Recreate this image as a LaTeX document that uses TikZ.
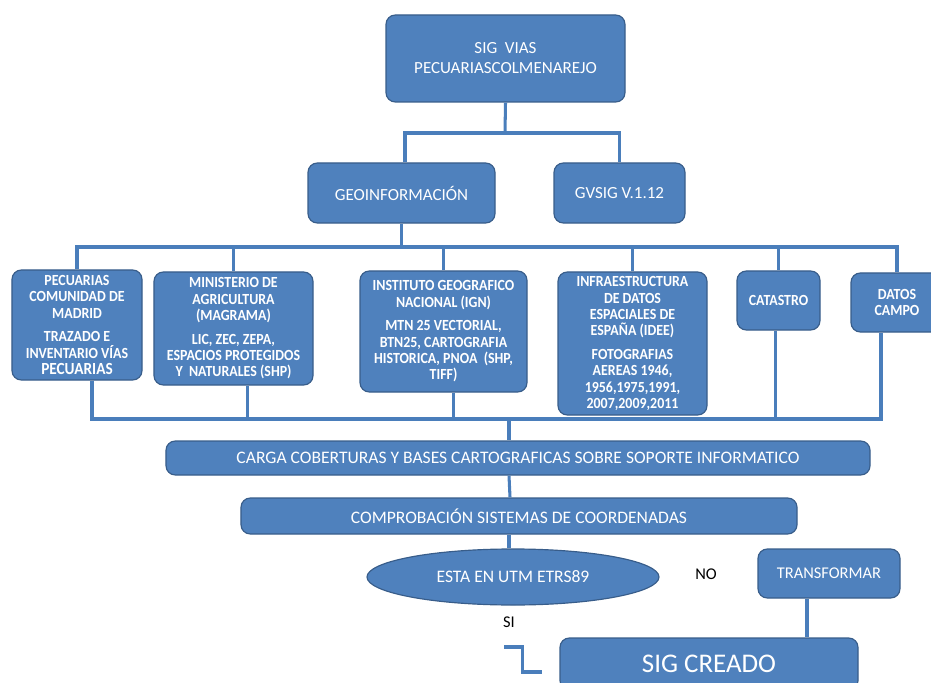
\documentclass[tikz,border=0pt]{standalone}
\usepackage{fontspec}
\setmainfont{Carlito}
\newfontfamily\srcfont{Carlito}[FakeStretch=0.9]
\usepackage{tikz}
\usetikzlibrary{shapes.geometric, calc}

\definecolor{boxblue}{RGB}{79,129,189}
\definecolor{boxedge}{RGB}{56,93,138}
\definecolor{lineblue}{RGB}{74,126,187}

\begin{document}
\begin{tikzpicture}[x=0.03cm, y=-0.03cm,
  every node/.style = {shape=rectangle, rounded corners=0.28cm, draw=boxedge, fill=boxblue, line width=1pt, text=white, align=center, inner sep=2pt, font=\fontsize{14.5}{17}\selectfont},
  source/.style = {font=\srcfont\bfseries\fontsize{13.2}{14}\selectfont},
  label/.style = {draw=none, fill=none, text=black, font=\fontsize{14}{16}\selectfont},
  line/.style = {draw=lineblue, line width=2.6pt}]

\clip (0,0) rectangle (931,683);

\node (top) [minimum width=7.17cm, minimum height=2.61cm] at (505.5,58.5) {SIG\ \ VIAS\\PECUARIASCOLMENAREJO};
\node (geo) [minimum width=5.61cm, minimum height=1.8cm] at (401.5,193) {GEOINFORMACIÓN};
\node (gvsig) [minimum width=3.93cm, minimum height=1.8cm] at (619.5,193) {GVSIG V.1.12};

\node (pecu) [source, minimum width=3.9cm, minimum height=3.3cm] at (77,325) {PECUARIAS\\COMUNIDAD DE\\MADRID\\[6pt]TRAZADO E\\INVENTARIO VÍAS\\{\fontsize{14.5}{15}\selectfont PECUARIAS}};
\node (mini) [source, minimum width=4.77cm, minimum height=3.39cm] at (233.5,328.5) {MINISTERIO DE\\AGRICULTURA\\(MAGRAMA)\\[6pt]LIC, ZEC, ZEPA,\\ESPACIOS PROTEGIDOS\\Y\ \ NATURALES (SHP)};
\node (ign) [source, minimum width=5.01cm, minimum height=3.63cm] at (443.5,331.5) {INSTITUTO GEOGRAFICO\\NACIONAL (IGN)\\[6pt]MTN 25 VECTORIAL,\\BTN25, CARTOGRAFIA\\HISTORICA, PNOA\ \ (SHP,\\TIFF)};
\node (idee) [source, minimum width=4.47cm, minimum height=4.29cm] at (632.5,343.5) {INFRAESTRUCTURA\\DE DATOS\\ESPACIALES DE\\ESPAÑA (IDEE)\\[6pt]FOTOGRAFIAS\\AEREAS 1946,\\1956,1975,1991,\\2007,2009,2011};
\node (cat) [source, minimum width=2.49cm, minimum height=1.77cm] at (778.5,300.5) {CATASTRO};
\node (campo) [source, minimum width=2.76cm, minimum height=1.77cm] at (897,302.5) {DATOS\\CAMPO};

\node (carga) [minimum width=21.12cm, minimum height=1.02cm, font=\fontsize{15}{17}\selectfont] at (518,458) {CARGA COBERTURAS Y BASES CARTOGRAFICAS SOBRE SOPORTE INFORMATICO};
\node (comp) [minimum width=16.68cm, minimum height=1.08cm, font=\fontsize{15}{17}\selectfont] at (519,516) {COMPROBACIÓN SISTEMAS DE COORDENADAS};
\node (utm) [shape=ellipse, minimum width=8.76cm, minimum height=1.68cm, font=\fontsize{15}{17}\selectfont] at (513,577) {ESTA EN UTM ETRS89};
\node (trans) [minimum width=4.26cm, minimum height=1.47cm, font=\fontsize{14}{16}\selectfont] at (829,573.5) {TRANSFORMAR};
\node (sig) [minimum width=8.94cm, minimum height=1.56cm, font=\fontsize{23}{25}\selectfont] at (709,664) {SIG CREADO};

\node (no) [label] at (706,574) {NO};
\node (si) [label] at (509,622) {SI};

\coordinate (split) at (505,133);
\coordinate (bus) at (0,247);
\coordinate (bus2) at (0,419);
\coordinate (zstart) at (504,647);

\draw[line] (top.south) -- (split);
\draw[line] ($(geo.north)+(3.5,0)$) |- (split) -| (gvsig.north);
\draw[line] (geo.south) -- (geo.south |- bus);
\draw[line] (pecu.north) |- (campo.north |- bus) -- (campo.north);
\foreach \n in {mini, ign, idee, cat}
  \draw[line] (\n.north) -- (\n.north |- bus);

\draw[line] ($(pecu.south)+(15,0)$) |- ($(campo.south |- bus2)+(-16,0)$) -- ($(campo.south)+(-16,0)$);
\draw[line] ($(mini.south)+(14,0)$) -- ($(mini.south |- bus2)+(14,0)$);
\draw[line] ($(ign.south)+(10,0)$) -- ($(ign.south |- bus2)+(10,0)$);
\draw[line] ($(cat.south)+(-3,0)$) -- ($(cat.south |- bus2)+(-3,0)$);
\draw[line] ($(carga.north |- bus2)+(-9,0)$) -- ($(carga.north)+(-9,0)$);
\draw[line] ($(carga.south)+(-9,0)$) -- ($(comp.north)+(-9,0)$);
\draw[line] ($(comp.south)+(-10,0)$) -- ($(utm.north)+(-4,0)$);
\draw[line] ($(trans.south)+(-22,0)$) -- ($(trans.south |- sig.north)+(-22,0)$);
\draw[line] (zstart) -| ($(sig.west)+(-37,8)$) -- ($(sig.west)+(-17,8)$);
\end{tikzpicture}
\end{document}
